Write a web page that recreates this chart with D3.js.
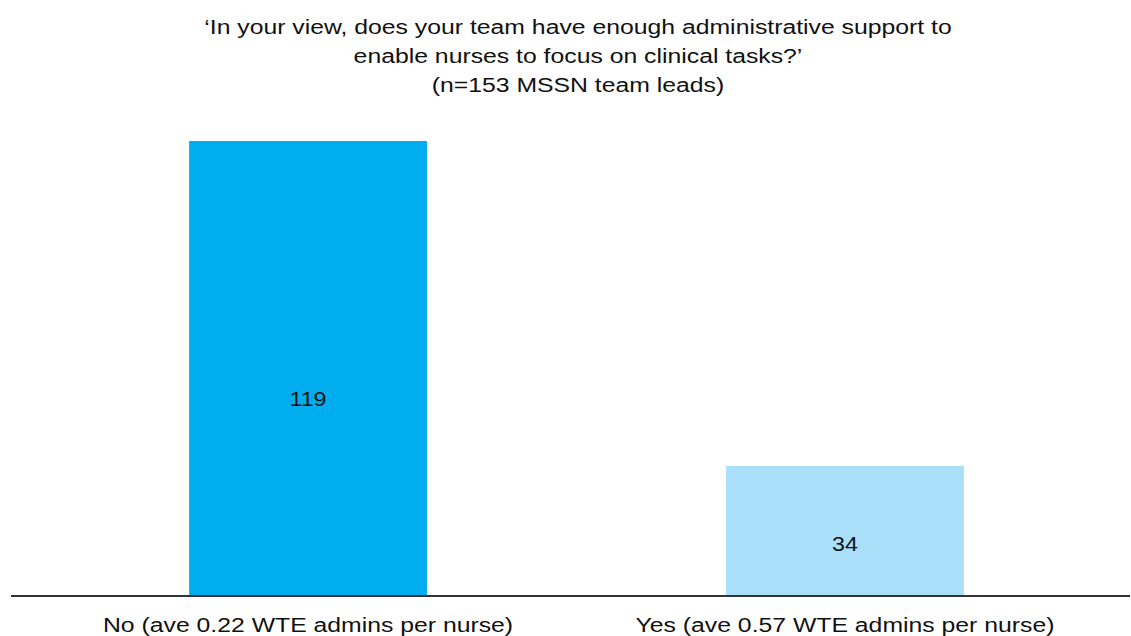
<!DOCTYPE html>
<html>
<head>
<meta charset="utf-8">
<script src="https://cdn.jsdelivr.net/npm/d3@7"></script>
<style>
  body { margin: 0; background: #fff; }
  svg { display: block; font-family: "Liberation Sans", Arial, Helvetica, sans-serif; }
</style>
</head>
<body>
<svg id="chart" width="1131" height="636"></svg>
<script>
const titleLines = [
  "\u2018In your view, does your team have enough administrative support to",
  "enable nurses to focus on clinical tasks?\u2019",
  "(n=153 MSSN team leads)"
];
const categories = ["No (ave 0.22 WTE admins per nurse)", "Yes (ave 0.57 WTE admins per nurse)"];
const values = [119, 34];
const barColors = ["#00AEEF", "#A9DFF9"];

const W = 1131, H = 636;
const baseY = 596, topY = 141;
const stretch = 1.18;
const svg = d3.select("#chart");

const x = d3.scaleBand()
  .domain(categories)
  .range([40, 1113])
  .paddingInner(0.557)
  .paddingOuter(0.2777);

const y = d3.scaleLinear()
  .domain([0, 119])
  .range([baseY, topY]);

// title
svg.append("g").selectAll("text")
  .data(titleLines)
  .join("text")
  .attr("transform", (d, i) => `translate(578,${34 + i * 29}) scale(${stretch},1)`)
  .attr("text-anchor", "middle")
  .attr("font-size", 21)
  .attr("fill", "#111")
  .text(d => d);

// bars
svg.append("g").selectAll("rect")
  .data(values)
  .join("rect")
  .attr("x", (d, i) => x(categories[i]))
  .attr("width", x.bandwidth())
  .attr("y", d => y(d))
  .attr("height", d => baseY - y(d))
  .attr("fill", (d, i) => barColors[i]);

// value labels
svg.append("g").selectAll("text")
  .data(values)
  .join("text")
  .attr("transform", (d, i) => {
    const cx = x(categories[i]) + x.bandwidth() / 2;
    const cy = y(d) + (baseY - y(d)) * 0.554 + 13;
    return `translate(${cx},${cy}) scale(${stretch * 0.96},1)`;
  })
  .attr("text-anchor", "middle")
  .attr("font-size", 20.5)
  .attr("fill", "#111")
  .text(d => d);

// axis
const axis = d3.axisBottom(x).tickSize(0).tickPadding(0);
const gAxis = svg.append("g")
  .attr("transform", `translate(0,${baseY})`)
  .call(axis);
gAxis.select(".domain").remove();
gAxis.selectAll(".tick text")
  .attr("font-size", 21)
  .attr("fill", "#111")
  .attr("dy", null)
  .attr("y", null)
  .attr("transform", `translate(0,36) scale(${stretch},1)`)
  .style("font-family", "'Liberation Sans', Arial, Helvetica, sans-serif");

svg.append("line")
  .attr("x1", 11).attr("x2", 1130)
  .attr("y1", baseY).attr("y2", baseY)
  .attr("stroke", "#333")
  .attr("stroke-width", 2);
</script>
</body>
</html>
